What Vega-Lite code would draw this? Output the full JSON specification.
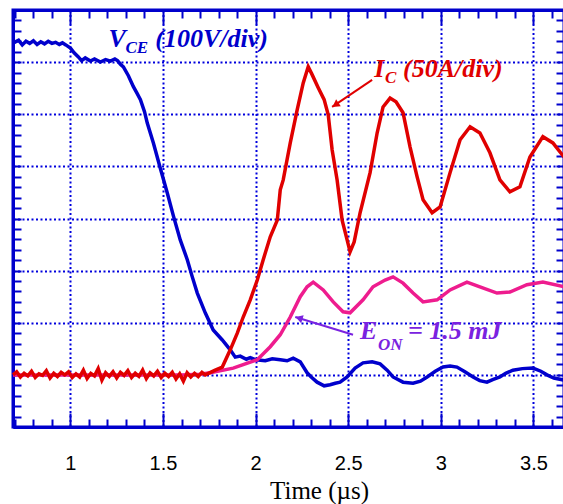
{
  "$schema": "https://vega.github.io/schema/vega-lite/v6.json",
  "width": 551,
  "height": 417,
  "autosize": "none",
  "padding": {"left": 13, "top": 10, "right": 0, "bottom": 77},
  "background": "white",
  "config": {"view": {"stroke": "#0000CC", "strokeWidth": 3}},
  "datasets": {
    "traces": [
      {"series":"VCE","t":0.693,"v":7.37},{"series":"VCE","t":0.72,"v":7.42},{"series":"VCE","t":0.74,"v":7.33},{"series":"VCE","t":0.76,"v":7.40},{"series":"VCE","t":0.78,"v":7.36},{"series":"VCE","t":0.80,"v":7.41},{"series":"VCE","t":0.82,"v":7.34},{"series":"VCE","t":0.84,"v":7.39},{"series":"VCE","t":0.86,"v":7.35},{"series":"VCE","t":0.88,"v":7.40},{"series":"VCE","t":0.90,"v":7.36},{"series":"VCE","t":0.92,"v":7.38},{"series":"VCE","t":0.94,"v":7.34},{"series":"VCE","t":0.957,"v":7.37},{"series":"VCE","t":0.975,"v":7.33},{"series":"VCE","t":1.0,"v":7.27},{"series":"VCE","t":1.02,"v":7.18},{"series":"VCE","t":1.043,"v":7.10},{"series":"VCE","t":1.06,"v":7.03},{"series":"VCE","t":1.08,"v":7.08},{"series":"VCE","t":1.108,"v":7.02},{"series":"VCE","t":1.13,"v":7.06},{"series":"VCE","t":1.162,"v":7.00},{"series":"VCE","t":1.19,"v":7.05},{"series":"VCE","t":1.216,"v":7.02},{"series":"VCE","t":1.24,"v":7.06},{"series":"VCE","t":1.254,"v":7.03},{"series":"VCE","t":1.27,"v":6.96},{"series":"VCE","t":1.286,"v":6.91},{"series":"VCE","t":1.313,"v":6.74},{"series":"VCE","t":1.34,"v":6.53},{"series":"VCE","t":1.36,"v":6.40},{"series":"VCE","t":1.378,"v":6.28},{"series":"VCE","t":1.40,"v":6.05},{"series":"VCE","t":1.415,"v":5.83},{"series":"VCE","t":1.448,"v":5.45},{"series":"VCE","t":1.485,"v":4.97},{"series":"VCE","t":1.523,"v":4.49},{"series":"VCE","t":1.556,"v":4.05},{"series":"VCE","t":1.593,"v":3.59},{"series":"VCE","t":1.631,"v":3.21},{"series":"VCE","t":1.658,"v":2.88},{"series":"VCE","t":1.685,"v":2.57},{"series":"VCE","t":1.728,"v":2.19},{"series":"VCE","t":1.771,"v":1.86},{"series":"VCE","t":1.82,"v":1.67},{"series":"VCE","t":1.863,"v":1.48},{"series":"VCE","t":1.89,"v":1.34},{"series":"VCE","t":1.917,"v":1.36},{"series":"VCE","t":1.95,"v":1.30},{"series":"VCE","t":1.971,"v":1.33},{"series":"VCE","t":2.0,"v":1.29},{"series":"VCE","t":2.052,"v":1.27},{"series":"VCE","t":2.09,"v":1.31},{"series":"VCE","t":2.133,"v":1.29},{"series":"VCE","t":2.17,"v":1.27},{"series":"VCE","t":2.203,"v":1.32},{"series":"VCE","t":2.241,"v":1.25},{"series":"VCE","t":2.278,"v":1.04},{"series":"VCE","t":2.30,"v":0.96},{"series":"VCE","t":2.332,"v":0.86},{"series":"VCE","t":2.37,"v":0.79},{"series":"VCE","t":2.402,"v":0.81},{"series":"VCE","t":2.43,"v":0.84},{"series":"VCE","t":2.456,"v":0.86},{"series":"VCE","t":2.494,"v":0.96},{"series":"VCE","t":2.537,"v":1.13},{"series":"VCE","t":2.58,"v":1.23},{"series":"VCE","t":2.629,"v":1.25},{"series":"VCE","t":2.672,"v":1.21},{"series":"VCE","t":2.71,"v":1.09},{"series":"VCE","t":2.742,"v":0.96},{"series":"VCE","t":2.796,"v":0.86},{"series":"VCE","t":2.85,"v":0.84},{"series":"VCE","t":2.89,"v":0.88},{"series":"VCE","t":2.926,"v":0.96},{"series":"VCE","t":2.97,"v":1.07},{"series":"VCE","t":3.012,"v":1.15},{"series":"VCE","t":3.05,"v":1.17},{"series":"VCE","t":3.087,"v":1.15},{"series":"VCE","t":3.13,"v":1.06},{"series":"VCE","t":3.174,"v":0.96},{"series":"VCE","t":3.21,"v":0.89},{"series":"VCE","t":3.249,"v":0.86},{"series":"VCE","t":3.28,"v":0.91},{"series":"VCE","t":3.319,"v":0.96},{"series":"VCE","t":3.35,"v":1.03},{"series":"VCE","t":3.389,"v":1.09},{"series":"VCE","t":3.44,"v":1.12},{"series":"VCE","t":3.497,"v":1.13},{"series":"VCE","t":3.54,"v":1.07},{"series":"VCE","t":3.573,"v":1.00},{"series":"VCE","t":3.61,"v":0.94},{"series":"VCE","t":3.665,"v":0.90},

      {"series":"EON","t":0.69,"v":1.0},{"series":"EON","t":1.2,"v":1.0},{"series":"EON","t":1.6,"v":1.0},{"series":"EON","t":1.70,"v":1.01},{"series":"EON","t":1.755,"v":1.04},{"series":"EON","t":1.879,"v":1.13},{"series":"EON","t":2.009,"v":1.29},{"series":"EON","t":2.079,"v":1.54},{"series":"EON","t":2.133,"v":1.77},{"series":"EON","t":2.187,"v":2.11},{"series":"EON","t":2.241,"v":2.50},{"series":"EON","t":2.278,"v":2.69},{"series":"EON","t":2.311,"v":2.78},{"series":"EON","t":2.365,"v":2.63},{"series":"EON","t":2.419,"v":2.40},{"series":"EON","t":2.472,"v":2.21},{"series":"EON","t":2.51,"v":2.19},{"series":"EON","t":2.58,"v":2.44},{"series":"EON","t":2.634,"v":2.69},{"series":"EON","t":2.699,"v":2.82},{"series":"EON","t":2.742,"v":2.88},{"series":"EON","t":2.796,"v":2.76},{"series":"EON","t":2.85,"v":2.57},{"series":"EON","t":2.904,"v":2.40},{"series":"EON","t":2.98,"v":2.44},{"series":"EON","t":3.05,"v":2.63},{"series":"EON","t":3.141,"v":2.78},{"series":"EON","t":3.211,"v":2.69},{"series":"EON","t":3.303,"v":2.57},{"series":"EON","t":3.373,"v":2.59},{"series":"EON","t":3.465,"v":2.73},{"series":"EON","t":3.551,"v":2.78},{"series":"EON","t":3.665,"v":2.69},

      {"series":"IC","t":0.69,"v":1.00},{"series":"IC","t":0.71,"v":1.06},{"series":"IC","t":0.73,"v":0.96},{"series":"IC","t":0.75,"v":1.03},{"series":"IC","t":0.77,"v":0.98},{"series":"IC","t":0.79,"v":1.07},{"series":"IC","t":0.81,"v":0.95},{"series":"IC","t":0.83,"v":1.02},{"series":"IC","t":0.85,"v":0.99},{"series":"IC","t":0.87,"v":1.08},{"series":"IC","t":0.89,"v":0.94},{"series":"IC","t":0.91,"v":1.03},{"series":"IC","t":0.93,"v":0.97},{"series":"IC","t":0.95,"v":1.05},{"series":"IC","t":0.97,"v":1.00},{"series":"IC","t":0.99,"v":1.06},{"series":"IC","t":1.01,"v":0.95},{"series":"IC","t":1.03,"v":1.02},{"series":"IC","t":1.05,"v":0.96},{"series":"IC","t":1.07,"v":1.09},{"series":"IC","t":1.09,"v":0.93},{"series":"IC","t":1.11,"v":1.03},{"series":"IC","t":1.13,"v":0.98},{"series":"IC","t":1.15,"v":1.12},{"series":"IC","t":1.17,"v":0.90},{"series":"IC","t":1.19,"v":1.04},{"series":"IC","t":1.21,"v":0.97},{"series":"IC","t":1.23,"v":1.06},{"series":"IC","t":1.25,"v":0.94},{"series":"IC","t":1.27,"v":1.05},{"series":"IC","t":1.29,"v":0.99},{"series":"IC","t":1.31,"v":1.08},{"series":"IC","t":1.33,"v":0.95},{"series":"IC","t":1.35,"v":1.03},{"series":"IC","t":1.37,"v":0.97},{"series":"IC","t":1.39,"v":1.09},{"series":"IC","t":1.41,"v":0.93},{"series":"IC","t":1.43,"v":1.04},{"series":"IC","t":1.45,"v":0.98},{"series":"IC","t":1.47,"v":1.07},{"series":"IC","t":1.49,"v":0.95},{"series":"IC","t":1.51,"v":1.03},{"series":"IC","t":1.53,"v":0.97},{"series":"IC","t":1.55,"v":1.05},{"series":"IC","t":1.57,"v":0.92},{"series":"IC","t":1.59,"v":1.02},{"series":"IC","t":1.61,"v":0.88},{"series":"IC","t":1.63,"v":1.04},{"series":"IC","t":1.65,"v":0.96},{"series":"IC","t":1.67,"v":1.03},{"series":"IC","t":1.69,"v":0.97},{"series":"IC","t":1.71,"v":1.05},{"series":"IC","t":1.728,"v":1.00},{"series":"IC","t":1.782,"v":1.09},{"series":"IC","t":1.82,"v":1.15},{"series":"IC","t":1.863,"v":1.48},{"series":"IC","t":1.901,"v":1.80},{"series":"IC","t":1.933,"v":2.11},{"series":"IC","t":1.971,"v":2.44},{"series":"IC","t":2.009,"v":2.82},{"series":"IC","t":2.041,"v":3.21},{"series":"IC","t":2.079,"v":3.65},{"series":"IC","t":2.117,"v":3.97},{"series":"IC","t":2.133,"v":4.55},{"series":"IC","t":2.149,"v":4.74},{"series":"IC","t":2.187,"v":5.45},{"series":"IC","t":2.224,"v":6.08},{"series":"IC","t":2.257,"v":6.60},{"series":"IC","t":2.284,"v":6.91},{"series":"IC","t":2.305,"v":6.76},{"series":"IC","t":2.338,"v":6.51},{"series":"IC","t":2.37,"v":6.28},{"series":"IC","t":2.392,"v":5.99},{"series":"IC","t":2.413,"v":5.32},{"series":"IC","t":2.44,"v":4.74},{"series":"IC","t":2.467,"v":3.97},{"series":"IC","t":2.494,"v":3.59},{"series":"IC","t":2.51,"v":3.36},{"series":"IC","t":2.532,"v":3.55},{"series":"IC","t":2.564,"v":4.11},{"series":"IC","t":2.618,"v":4.88},{"series":"IC","t":2.656,"v":5.64},{"series":"IC","t":2.688,"v":6.14},{"series":"IC","t":2.726,"v":6.31},{"series":"IC","t":2.758,"v":6.24},{"series":"IC","t":2.796,"v":6.03},{"series":"IC","t":2.834,"v":5.37},{"series":"IC","t":2.872,"v":4.80},{"series":"IC","t":2.904,"v":4.36},{"series":"IC","t":2.953,"v":4.11},{"series":"IC","t":2.996,"v":4.22},{"series":"IC","t":3.05,"v":4.88},{"series":"IC","t":3.104,"v":5.51},{"series":"IC","t":3.158,"v":5.76},{"series":"IC","t":3.211,"v":5.64},{"series":"IC","t":3.265,"v":5.26},{"series":"IC","t":3.319,"v":4.74},{"series":"IC","t":3.373,"v":4.51},{"series":"IC","t":3.427,"v":4.61},{"series":"IC","t":3.481,"v":5.18},{"series":"IC","t":3.551,"v":5.57},{"series":"IC","t":3.605,"v":5.45},{"series":"IC","t":3.665,"v":5.18}
    ],
    "notes": [
      {"series":"VCE","part":"main","t":1.205,"v":7.29,"text":"V"},
      {"series":"VCE","part":"sub","t":1.297,"v":7.17,"text":"CE"},
      {"series":"VCE","part":"main","t":1.458,"v":7.29,"text":"(100V/div)"},
      {"series":"IC","part":"main","t":2.640,"v":6.72,"text":"I"},
      {"series":"IC","part":"sub","t":2.699,"v":6.60,"text":"C"},
      {"series":"IC","part":"main","t":2.796,"v":6.72,"text":"(50A/div)"},
      {"series":"EON","part":"main","t":2.564,"v":1.69,"text":"E"},
      {"series":"EON","part":"sub","t":2.661,"v":1.48,"text":"ON"},
      {"series":"EON","part":"main","t":2.823,"v":1.69,"text":"= 1.5 mJ"}
    ],
    "arrows": [
      {"series":"IC","t":2.629,"v":6.66,"t2":2.413,"v2":6.14,"th":2.431,"vh":6.18},
      {"series":"EON","t":2.526,"v":1.77,"t2":2.214,"v2":2.11,"th":2.234,"vh":2.088}
    ]
  },
  "resolve": {"axis": {"x": "independent", "y": "independent"}},
  "layer": [
    {
      "data": {"name": "traces"},
      "transform": [{"filter": "datum.series == 'VCE'"}],
      "mark": {"type": "line", "color": "#0000CC", "strokeWidth": 3.5},
      "encoding": {
        "x": {"field": "t", "type": "quantitative",
          "scale": {"domain": [0.69, 3.665], "nice": false, "zero": false},
          "axis": {
            "orient": "bottom",
            "values": [0.7,0.8,0.9,1,1.1,1.2,1.3,1.4,1.5,1.6,1.7,1.8,1.9,2,2.1,2.2,2.3,2.4,2.5,2.6,2.7,2.8,2.9,3,3.1,3.2,3.3,3.4,3.5,3.6],
            "title": "Time (µs)",
            "titleFont": "Liberation Serif", "titleFontSize": 25, "titleFontWeight": "normal", "titleColor": "#000000",
            "titleX": 306, "titleY": 71, "titleBaseline": "alphabetic", "titleAlign": "center", "titleAngle": 0,
            "labelExpr": "abs(datum.value*2 - round(datum.value*2)) < 0.001 ? format(datum.value, '.2~f') : ''",
            "labelFont": "Liberation Sans", "labelFontSize": 20, "labelColor": "#000000", "labelPadding": 40,
            "labelFlush": false, "labelOverlap": false,
            "tickSize": {"condition": {"test": "abs(datum.value*2 - round(datum.value*2)) < 0.001", "value": -14}, "value": -8},
            "tickColor": "#0000CC", "tickWidth": 2,
            "domainColor": "#0000CC", "domainWidth": 3,
            "grid": true, "gridColor": "#0000DD", "gridWidth": 2, "gridDash": [2, 2.5],
            "gridOpacity": {"condition": {"test": "abs(datum.value*2 - round(datum.value*2)) < 0.001", "value": 1}, "value": 0}
          }
        },
        "y": {"field": "v", "type": "quantitative",
          "scale": {"domain": [0, 8], "nice": false, "zero": false},
          "axis": {
            "orient": "left",
            "values": [0,0.2,0.4,0.6,0.8,1,1.2,1.4,1.6,1.8,2,2.2,2.4,2.6,2.8,3,3.2,3.4,3.6,3.8,4,4.2,4.4,4.6,4.8,5,5.2,5.4,5.6,5.8,6,6.2,6.4,6.6,6.8,7,7.2,7.4,7.6,7.8,8],
            "title": null, "labels": false,
            "tickSize": -8, "tickColor": "#0000CC", "tickWidth": 2,
            "domainColor": "#0000CC", "domainWidth": 3,
            "grid": true, "gridColor": "#0000DD", "gridWidth": 2, "gridDash": [2, 2.5],
            "gridOpacity": {"condition": {"test": "abs(datum.value - round(datum.value)) < 0.001", "value": 1}, "value": 0}
          }
        }
      }
    },
    {
      "data": {"name": "traces"},
      "transform": [{"filter": "datum.series == 'EON'"}],
      "mark": {"type": "line", "color": "#EE1C8E", "strokeWidth": 3.5},
      "encoding": {
        "x": {"field": "t", "type": "quantitative",
          "scale": {"domain": [0.69, 3.665], "nice": false, "zero": false},
          "axis": {
            "orient": "top",
            "values": [0.7,0.8,0.9,1,1.1,1.2,1.3,1.4,1.5,1.6,1.7,1.8,1.9,2,2.1,2.2,2.3,2.4,2.5,2.6,2.7,2.8,2.9,3,3.1,3.2,3.3,3.4,3.5,3.6],
            "title": null, "labels": false, "grid": false,
            "tickSize": {"condition": {"test": "abs(datum.value*2 - round(datum.value*2)) < 0.001", "value": -14}, "value": -8},
            "tickColor": "#0000CC", "tickWidth": 2,
            "domainColor": "#0000CC", "domainWidth": 3
          }
        },
        "y": {"field": "v", "type": "quantitative",
          "scale": {"domain": [0, 8], "nice": false, "zero": false},
          "axis": {
            "orient": "right",
            "values": [0,0.2,0.4,0.6,0.8,1,1.2,1.4,1.6,1.8,2,2.2,2.4,2.6,2.8,3,3.2,3.4,3.6,3.8,4,4.2,4.4,4.6,4.8,5,5.2,5.4,5.6,5.8,6,6.2,6.4,6.6,6.8,7,7.2,7.4,7.6,7.8,8],
            "title": null, "labels": false, "grid": false,
            "tickSize": -8, "tickColor": "#0000CC", "tickWidth": 2,
            "domainColor": "#0000CC", "domainWidth": 3
          }
        }
      }
    },
    {
      "data": {"name": "traces"},
      "transform": [{"filter": "datum.series == 'IC'"}],
      "mark": {"type": "line", "color": "#E00000", "strokeWidth": 3.5},
      "encoding": {
        "x": {"field": "t", "type": "quantitative", "axis": null},
        "y": {"field": "v", "type": "quantitative", "axis": null}
      }
    },
    {
      "data": {"name": "arrows"},
      "mark": {"type": "rule", "strokeWidth": 2},
      "encoding": {
        "x": {"field": "t", "type": "quantitative", "axis": null},
        "y": {"field": "v", "type": "quantitative", "axis": null},
        "x2": {"field": "t2"},
        "y2": {"field": "v2"},
        "color": {"field": "series", "type": "nominal", "legend": null,
          "scale": {"domain": ["VCE", "IC", "EON"], "range": ["#0000CC", "#E00000", "#7A22E0"]}}
      }
    },
    {
      "data": {"name": "arrows"},
      "transform": [{"filter": "datum.series == 'IC'"}],
      "mark": {"type": "point", "shape": "triangle-up", "filled": true, "size": 70, "angle": 236, "opacity": 1},
      "encoding": {
        "x": {"field": "th", "type": "quantitative", "axis": null},
        "y": {"field": "vh", "type": "quantitative", "axis": null},
        "color": {"field": "series", "type": "nominal", "legend": null}
      }
    },
    {
      "data": {"name": "arrows"},
      "transform": [{"filter": "datum.series == 'EON'"}],
      "mark": {"type": "point", "shape": "triangle-up", "filled": true, "size": 70, "angle": 287, "opacity": 1},
      "encoding": {
        "x": {"field": "th", "type": "quantitative", "axis": null},
        "y": {"field": "vh", "type": "quantitative", "axis": null},
        "color": {"field": "series", "type": "nominal", "legend": null}
      }
    },
    {
      "data": {"name": "notes"},
      "transform": [{"filter": "datum.part == 'main'"}],
      "mark": {"type": "text", "font": "Liberation Serif", "fontSize": 26, "fontStyle": "italic", "fontWeight": "bold", "align": "left", "baseline": "alphabetic"},
      "encoding": {
        "x": {"field": "t", "type": "quantitative", "axis": null},
        "y": {"field": "v", "type": "quantitative", "axis": null},
        "text": {"field": "text"},
        "color": {"field": "series", "type": "nominal", "legend": null}
      }
    },
    {
      "data": {"name": "notes"},
      "transform": [{"filter": "datum.part == 'sub'"}],
      "mark": {"type": "text", "font": "Liberation Serif", "fontSize": 17, "fontStyle": "italic", "fontWeight": "bold", "align": "left", "baseline": "alphabetic"},
      "encoding": {
        "x": {"field": "t", "type": "quantitative", "axis": null},
        "y": {"field": "v", "type": "quantitative", "axis": null},
        "text": {"field": "text"},
        "color": {"field": "series", "type": "nominal", "legend": null}
      }
    }
  ]
}
